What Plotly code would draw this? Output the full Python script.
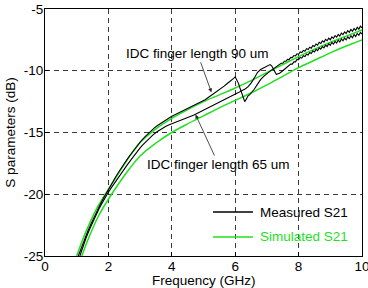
import plotly.graph_objects as go

# ---------------- data ----------------
f_m90 = [1.05, 1.15, 1.25, 1.35, 1.45, 1.55, 1.65, 1.75, 1.85, 1.95, 2.05, 2.15, 2.25, 2.35, 2.45,
         2.55, 2.65, 2.75, 2.85, 2.95, 3.05, 3.15, 3.25, 3.35, 3.45, 3.55, 3.65, 3.75, 3.85, 3.95,
         4.05, 4.15, 4.25, 4.35, 4.45, 4.55, 4.65, 4.75, 4.85, 4.95, 5.05, 5.15, 5.25, 5.35, 5.45,
         5.55, 5.65, 5.75, 5.85, 5.95, 6.0, 6.05, 6.1, 6.15, 6.2, 6.25, 6.3, 6.35, 6.4, 6.45, 6.5,
         6.55, 6.6, 6.7, 6.8, 6.9, 7.0, 7.1, 7.2, 7.3, 7.4,
         7.45, 7.5, 7.55, 7.6, 7.65, 7.7, 7.75, 7.8, 7.85, 7.9, 7.95, 8.0, 8.05, 8.1, 8.15, 8.2,
         8.25, 8.3, 8.35, 8.4, 8.45, 8.5, 8.55, 8.6, 8.65, 8.7, 8.75, 8.8, 8.85, 8.9, 8.95, 9.0,
         9.05, 9.1, 9.15, 9.2, 9.25, 9.3, 9.35, 9.4, 9.45, 9.5, 9.55, 9.6, 9.65, 9.7, 9.75, 9.8,
         9.85, 9.9, 9.95, 10.0]
s21_m90 = [-25.0, -24.3, -23.62, -23.0, -22.4, -21.83, -21.3, -20.78, -20.3, -19.82, -19.38, -18.93, -18.5, -18.1, -17.7,
           -17.32, -16.95, -16.62, -16.26, -15.94, -15.63, -15.35, -15.09, -14.85, -14.63, -14.43, -14.25, -14.08, -13.92, -13.77,
           -13.63, -13.5, -13.38, -13.24, -13.13, -13.0, -12.87, -12.76, -12.62, -12.5, -12.35, -12.17, -12.0, -11.82, -11.65,
           -11.45, -11.25, -11.03, -10.85, -10.62, -10.5, -10.7, -11.0, -11.4, -11.8, -12.2, -12.5, -12.3, -12.05, -11.95, -11.8,
           -11.7, -11.5, -11.1, -10.72, -10.45, -10.2, -10.03, -9.85, -9.68, -9.5,
           -9.39, -9.39, -9.23, -9.23, -9.08, -9.1, -8.92, -8.94, -8.77, -8.8, -8.63, -8.66, -8.47, -8.53, -8.35, -8.42,
           -8.21, -8.28, -8.09, -8.17, -7.96, -8.04, -7.83, -7.93, -7.7, -7.79, -7.58, -7.68, -7.46, -7.57, -7.36, -7.49,
           -7.26, -7.38, -7.15, -7.28, -7.06, -7.19, -6.95, -7.08, -6.85, -6.99, -6.75, -6.89, -6.65, -6.8, -6.57, -6.72,
           -6.47, -6.63, -6.39, -6.53]

f_m65 = [1.1, 1.2, 1.3, 1.4, 1.5, 1.6, 1.7, 1.8, 1.9, 2.0, 2.1, 2.2, 2.3, 2.4, 2.5, 2.6, 2.7, 2.8, 2.9, 3.0,
         3.1, 3.2, 3.3, 3.4, 3.5, 3.6, 3.7, 3.8, 3.9, 4.0, 4.1, 4.2, 4.3, 4.4, 4.5, 4.6, 4.7, 4.8, 4.9, 5.0,
         5.1, 5.2, 5.3, 5.4, 5.5, 5.6, 5.7, 5.8, 5.9, 6.0, 6.1, 6.2, 6.3, 6.4, 6.5, 6.6, 6.7, 6.8, 6.9, 7.0,
         7.1, 7.15, 7.2, 7.25, 7.3, 7.35, 7.4, 7.5, 7.6, 7.7,
         7.75, 7.8, 7.85, 7.9, 7.95, 8.0, 8.05, 8.1, 8.15, 8.2, 8.25, 8.3, 8.35, 8.4, 8.45, 8.5, 8.55, 8.6,
         8.65, 8.7, 8.75, 8.8, 8.85, 8.9, 8.95, 9.0, 9.05, 9.1, 9.15, 9.2, 9.25, 9.3, 9.35, 9.4, 9.45, 9.5,
         9.55, 9.6, 9.65, 9.7, 9.75, 9.8, 9.85, 9.9, 9.95, 10.0]
s21_m65 = [-25.0, -24.2, -23.5, -22.88, -22.3, -21.72, -21.2, -20.72, -20.25, -19.84, -19.44, -19.05, -18.66, -18.3, -17.95,
           -17.6, -17.26, -16.9, -16.57, -16.25, -15.96, -15.69, -15.44, -15.21, -15.0, -14.82, -14.66, -14.52, -14.4, -14.29,
           -14.18, -14.08, -13.98, -13.88, -13.79, -13.69, -13.59, -13.46, -13.35, -13.21, -13.1, -12.96, -12.85, -12.71, -12.6,
           -12.46, -12.35, -12.21, -12.06, -11.92, -11.77, -11.62, -11.5, -11.3, -11.0, -10.6, -10.15, -9.9, -9.75, -9.6,
           -9.5, -9.6, -9.85, -10.15, -10.3, -10.25, -10.2, -10.0, -9.8, -9.6,
           -9.46, -9.46, -9.28, -9.28, -9.08, -9.1, -8.92, -8.98, -8.79, -8.85, -8.66, -8.73, -8.52, -8.6, -8.39, -8.48,
           -8.27, -8.37, -8.15, -8.25, -8.04, -8.15, -7.93, -8.04, -7.81, -7.94, -7.7, -7.84, -7.62, -7.76, -7.53, -7.67,
           -7.43, -7.58, -7.35, -7.5, -7.25, -7.4, -7.16, -7.32, -7.07, -7.23, -6.98, -7.13, -6.9, -7.03]

f_s90 = [1.0, 1.2, 1.4, 1.6, 1.9, 2.2, 2.6, 3.0, 3.5, 4.0, 4.5, 5.0, 5.5, 6.0, 6.5, 7.0, 7.5, 8.0, 8.5, 9.0, 9.5, 10.0]
s21_s90 = [-25.0, -23.6, -22.4, -21.3, -20.0, -18.8, -17.2, -15.8, -14.7, -13.85, -13.15, -12.5, -11.95, -11.4,
           -10.8, -10.15, -9.5, -8.85, -8.25, -7.7, -7.2, -6.7]

f_s65 = [1.16, 1.4, 1.7, 2.1, 2.5, 3.0, 3.5, 4.0, 4.5, 5.0, 5.5, 6.0, 6.5, 7.0, 7.5, 8.0, 8.5, 9.0, 9.5, 10.0]
s21_s65 = [-25.0, -23.4, -21.7, -20.0, -18.5, -16.9, -15.85, -15.0, -14.3, -13.65, -13.0, -12.4, -11.8, -11.15,
           -10.45, -9.75, -9.15, -8.55, -8.0, -7.5]

x_ticks = [0, 2, 4, 6, 8, 10]
y_ticks = [-25, -20, -15, -10, -5]

legend_labels = ["Measured S21", "Simulated S21"]
note_90 = "IDC finger length 90 um"
note_65 = "IDC finger length 65 um"
x_title = "Frequency (GHz)"
y_title = "S parameters (dB)"

# ---------------- style ----------------
BLACK = "#000000"
GREEN = "#1fe01f"
FONT = "Liberation Sans, Arial, sans-serif"
FS = 13.5

fig = go.Figure()
fig.add_trace(go.Scatter(x=f_s90, y=s21_s90, mode="lines", line=dict(color=GREEN, width=1.5, shape="spline"),
                         showlegend=False))
fig.add_trace(go.Scatter(x=f_s65, y=s21_s65, mode="lines", line=dict(color=GREEN, width=1.5, shape="spline"),
                         showlegend=False))
fig.add_trace(go.Scatter(x=f_m90, y=s21_m90, mode="lines", line=dict(color=BLACK, width=1.1),
                         showlegend=False))
fig.add_trace(go.Scatter(x=f_m65, y=s21_m65, mode="lines", line=dict(color=BLACK, width=1.1),
                         showlegend=False))

axis_common = dict(
    showgrid=True, gridcolor="#3a3a3a", gridwidth=0.8, griddash="5px,4px",
    showline=True, linecolor="black", linewidth=1, mirror=True,
    ticks="inside", ticklen=4, tickcolor="black", zeroline=False,
    tickfont=dict(family=FONT, size=FS, color="black"),
    ticklabeloverflow="allow", automargin=False,
)

fig.update_layout(
    width=368, height=288,
    margin=dict(l=45, r=6, t=9, b=32),
    paper_bgcolor="white", plot_bgcolor="white",
    font=dict(family=FONT, size=FS, color="black"),
    showlegend=False,
    xaxis=dict(range=[0, 10], tickvals=x_ticks, ticktext=[str(v) for v in x_ticks],
               ticklabelstandoff=-2, **axis_common),
    yaxis=dict(range=[-25, -5], tickvals=y_ticks, ticktext=[str(v) for v in y_ticks],
               ticklabelstandoff=-2,
               title=dict(text=y_title, font=dict(family=FONT, size=FS), standoff=5),
               **axis_common),
)

# x axis title placed just below the tick labels
fig.add_annotation(x=0.5, y=-0.101, xref="paper", yref="paper", text=x_title, showarrow=False,
                   xanchor="center", yanchor="middle", font=dict(family=FONT, size=FS, color="black"))

# arrows / notes
fig.add_annotation(x=5.25, y=-11.75, xref="x", yref="y", text=note_90, showarrow=True,
                   ax=-14, ay=-39, arrowhead=2, arrowsize=1, arrowwidth=0.8, arrowcolor="#222",
                   standoff=0, font=dict(family=FONT, size=FS, color="black"))
fig.add_annotation(x=4.75, y=-13.55, xref="x", yref="y", text=note_65, showarrow=True,
                   ax=23, ay=50, arrowhead=2, arrowsize=1, arrowwidth=0.8, arrowcolor="#222",
                   standoff=0, font=dict(family=FONT, size=FS, color="black"))

# manual legend (paper coordinates)
leg_colors = [BLACK, GREEN]
leg_y = [0.178, 0.077]
for lab, col, yy in zip(legend_labels, leg_colors, leg_y):
    fig.add_shape(type="line", xref="paper", yref="paper", x0=0.530, x1=0.656, y0=yy, y1=yy,
                  line=dict(color=col, width=1.5))
    fig.add_annotation(x=0.672, y=yy, xref="paper", yref="paper", text=lab, showarrow=False,
                       xanchor="left", yanchor="middle", font=dict(family=FONT, size=FS, color=col))

fig.write_html("out.html")
